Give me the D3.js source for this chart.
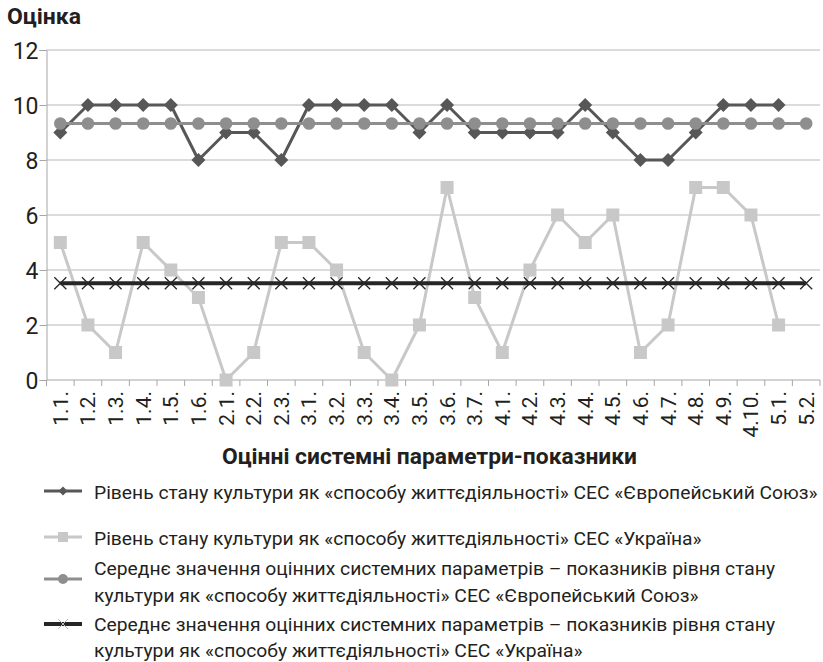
<!DOCTYPE html>
<html>
<head>
<meta charset="utf-8">
<script src="https://cdn.jsdelivr.net/npm/d3@7"></script>
<style>
  body { margin: 0; background: #fff; }
  text { font-family: "Liberation Sans Narrow", Roboto, "Noto Sans", sans-serif; fill: #231f20; }
</style>
</head>
<body>
<svg id="chart" width="823" height="662"></svg>
<script>
const categories = ["1.1.","1.2.","1.3.","1.4.","1.5.","1.6.","2.1.","2.2.","2.3.","3.1.","3.2.","3.3.","3.4.","3.5.","3.6.","3.7.","4.1.","4.2.","4.3.","4.4.","4.5.","4.6.","4.7.","4.8.","4.9.","4.10.","5.1.","5.2."];
const euLevel = [9,10,10,10,10,8,9,9,8,10,10,10,10,9,10,9,9,9,9,10,9,8,8,9,10,10,10,null];
const uaLevel = [5,2,1,5,4,3,0,1,5,5,4,1,0,2,7,3,1,4,6,5,6,1,2,7,7,6,2,null];
const euMean = [9.33,9.33,9.33,9.33,9.33,9.33,9.33,9.33,9.33,9.33,9.33,9.33,9.33,9.33,9.33,9.33,9.33,9.33,9.33,9.33,9.33,9.33,9.33,9.33,9.33,9.33,9.33,9.33];
const uaMean = [3.52,3.52,3.52,3.52,3.52,3.52,3.52,3.52,3.52,3.52,3.52,3.52,3.52,3.52,3.52,3.52,3.52,3.52,3.52,3.52,3.52,3.52,3.52,3.52,3.52,3.52,3.52,3.52];
const yTicks = [0,2,4,6,8,10,12];

const legendLines = [
  ["Рівень стану культури як «способу життєдіяльності» СЕС «Європейський Союз»"],
  ["Рівень стану культури як «способу життєдіяльності» СЕС «Україна»"],
  ["Середнє значення оцінних системних параметрів – показників рівня стану", "культури як «способу життєдіяльності» СЕС «Європейський Союз»"],
  ["Середнє значення оцінних системних параметрів – показників рівня стану", "культури як «способу життєдіяльності» СЕС «Україна»"]
];

const svg = d3.select('#chart');
const plotLeft = 46.5, plotRight = 820, plotTop = 50, plotBottom = 380;

let xScale = d3.scaleBand().domain(categories).range([plotLeft, plotRight]);
let yScale = d3.scaleLinear().domain([0, 12]).range([plotBottom, plotTop]);
const cx = (i) => xScale(categories[i]) + xScale.bandwidth() / 2;

// size a text so that its natural width is the target width
function fitSize(sel, base, target) {
  sel.style('font-size', base + 'px');
  const w = sel.node().getComputedTextLength();
  const size = base * target / w;
  sel.style('font-size', size + 'px');
  return size;
}

// gridlines
svg.append('g')
  .selectAll('line')
  .data(yTicks.filter(d => d > 0))
  .enter()
  .append('line')
  .attr('x1', plotLeft).attr('x2', plotRight)
  .attr('y1', d => yScale(d)).attr('y2', d => yScale(d))
  .attr('stroke', '#cfcfcf').attr('stroke-width', 1.3);

// y axis
let yAxis = svg.append('g')
  .attr('transform', `translate(${plotLeft},0)`)
  .call(d3.axisLeft(yScale).tickValues(yTicks).tickSize(7).tickPadding(2));
yAxis.select('.domain').attr('stroke', '#a6a6a6');
yAxis.selectAll('.tick line').attr('stroke', '#a6a6a6');
yAxis.selectAll('.tick text').style('font-size', '23px').style('font-family', 'Roboto, sans-serif')
  .attr('fill', '#231f20').attr('dy', '0.36em').attr('x', -8);

// x axis
svg.append('line')
  .attr('x1', plotLeft).attr('x2', plotRight)
  .attr('y1', plotBottom).attr('y2', plotBottom)
  .attr('stroke', '#a6a6a6');
svg.append('g')
  .selectAll('line')
  .data(categories.map(c => xScale(c)).concat([plotRight]))
  .enter()
  .append('line')
  .attr('x1', d => d).attr('x2', d => d)
  .attr('y1', plotBottom).attr('y2', plotBottom + 6)
  .attr('stroke', '#a6a6a6');

svg.append('g')
  .selectAll('text')
  .data(categories)
  .enter()
  .append('text')
  .attr('transform', (d, i) => `translate(${cx(i) + 7.5},391) rotate(-90)`)
  .attr('text-anchor', 'end')
  .style('font-family', 'Roboto, sans-serif')
  .style('font-size', '21px')
  .text(d => d);

// series
const line = d3.line()
  .defined(d => d != null)
  .x((d, i) => cx(i))
  .y(d => yScale(d));

function drawSeries(values, color, width) {
  svg.append('path')
    .datum(values)
    .attr('fill', 'none')
    .attr('stroke', color)
    .attr('stroke-width', width)
    .attr('stroke-linejoin', 'round')
    .attr('d', line);
}

const pts = (values) => values.map((v, i) => ({ v: v, i: i })).filter(d => d.v != null);

// EU level - diamonds
drawSeries(euLevel, '#575757', 3);
svg.append('g').selectAll('path').data(pts(euLevel)).enter().append('path')
  .attr('d', 'M0,-7L7,0L0,7L-7,0Z')
  .attr('transform', d => `translate(${cx(d.i)},${yScale(d.v)})`)
  .attr('fill', '#575757');

// UA level - squares
drawSeries(uaLevel, '#c8c8c8', 3);
svg.append('g').selectAll('rect').data(pts(uaLevel)).enter().append('rect')
  .attr('x', d => cx(d.i) - 6.5).attr('y', d => yScale(d.v) - 6.5)
  .attr('width', 13).attr('height', 13)
  .attr('fill', '#c8c8c8');

// EU mean - circles
drawSeries(euMean, '#8e8e8e', 3);
svg.append('g').selectAll('circle').data(pts(euMean)).enter().append('circle')
  .attr('cx', d => cx(d.i)).attr('cy', d => yScale(d.v))
  .attr('r', 6.3)
  .attr('fill', '#8e8e8e');

// UA mean - x markers
drawSeries(uaMean, '#262626', 4);
svg.append('g').selectAll('path').data(pts(uaMean)).enter().append('path')
  .attr('d', 'M-6,-6L6,6M-6,6L6,-6')
  .attr('transform', d => `translate(${cx(d.i)},${yScale(d.v)})`)
  .attr('stroke', '#262626').attr('stroke-width', 1.3).attr('fill', 'none');

// titles
let yTitle = svg.append('text')
  .attr('x', 7).attr('y', 24)
  .style('font-weight', 'bold')
  .text('Оцінка');
fitSize(yTitle, 22, 74);

let xTitle = svg.append('text')
  .attr('x', 222).attr('y', 464)
  .style('font-weight', 'bold')
  .text('Оцінні системні параметри-показники');
fitSize(xTitle, 22, 415);

// legend
const legendRows = [
  { y: 491, base: [499], color: '#575757', w: 3, mark: 'diamond' },
  { y: 537, base: [545], color: '#c8c8c8', w: 3, mark: 'square' },
  { y: 579, base: [575, 602], color: '#8e8e8e', w: 3, mark: 'circle' },
  { y: 624, base: [631, 657], color: '#262626', w: 4, mark: 'x' }
];

let legend = svg.append('g');
let texts = [];
legendRows.forEach((r, k) => {
  legend.append('line')
    .attr('x1', 44).attr('x2', 82).attr('y1', r.y).attr('y2', r.y)
    .attr('stroke', r.color).attr('stroke-width', r.w);
  if (r.mark === 'diamond') {
    legend.append('path').attr('d', 'M0,-4.5L4.5,0L0,4.5L-4.5,0Z')
      .attr('transform', `translate(63,${r.y})`).attr('fill', r.color);
  } else if (r.mark === 'square') {
    legend.append('rect').attr('x', 58).attr('y', r.y - 5).attr('width', 10).attr('height', 10).attr('fill', r.color);
  } else if (r.mark === 'circle') {
    legend.append('circle').attr('cx', 63).attr('cy', r.y).attr('r', 5).attr('fill', r.color);
  } else {
    legend.append('path').attr('d', 'M-5,-5L5,5M-5,5L5,-5')
      .attr('transform', `translate(63,${r.y})`)
      .attr('stroke', '#bdbdbd').attr('stroke-width', 1);
  }
  legendLines[k].forEach((t, j) => {
    texts.push(legend.append('text')
      .attr('x', 94).attr('y', r.base[j])
      .text(t));
  });
});

const legendSize = fitSize(texts[0], 22, 724);
texts.forEach(t => t.style('font-size', legendSize + 'px'));
</script>
</body>
</html>
